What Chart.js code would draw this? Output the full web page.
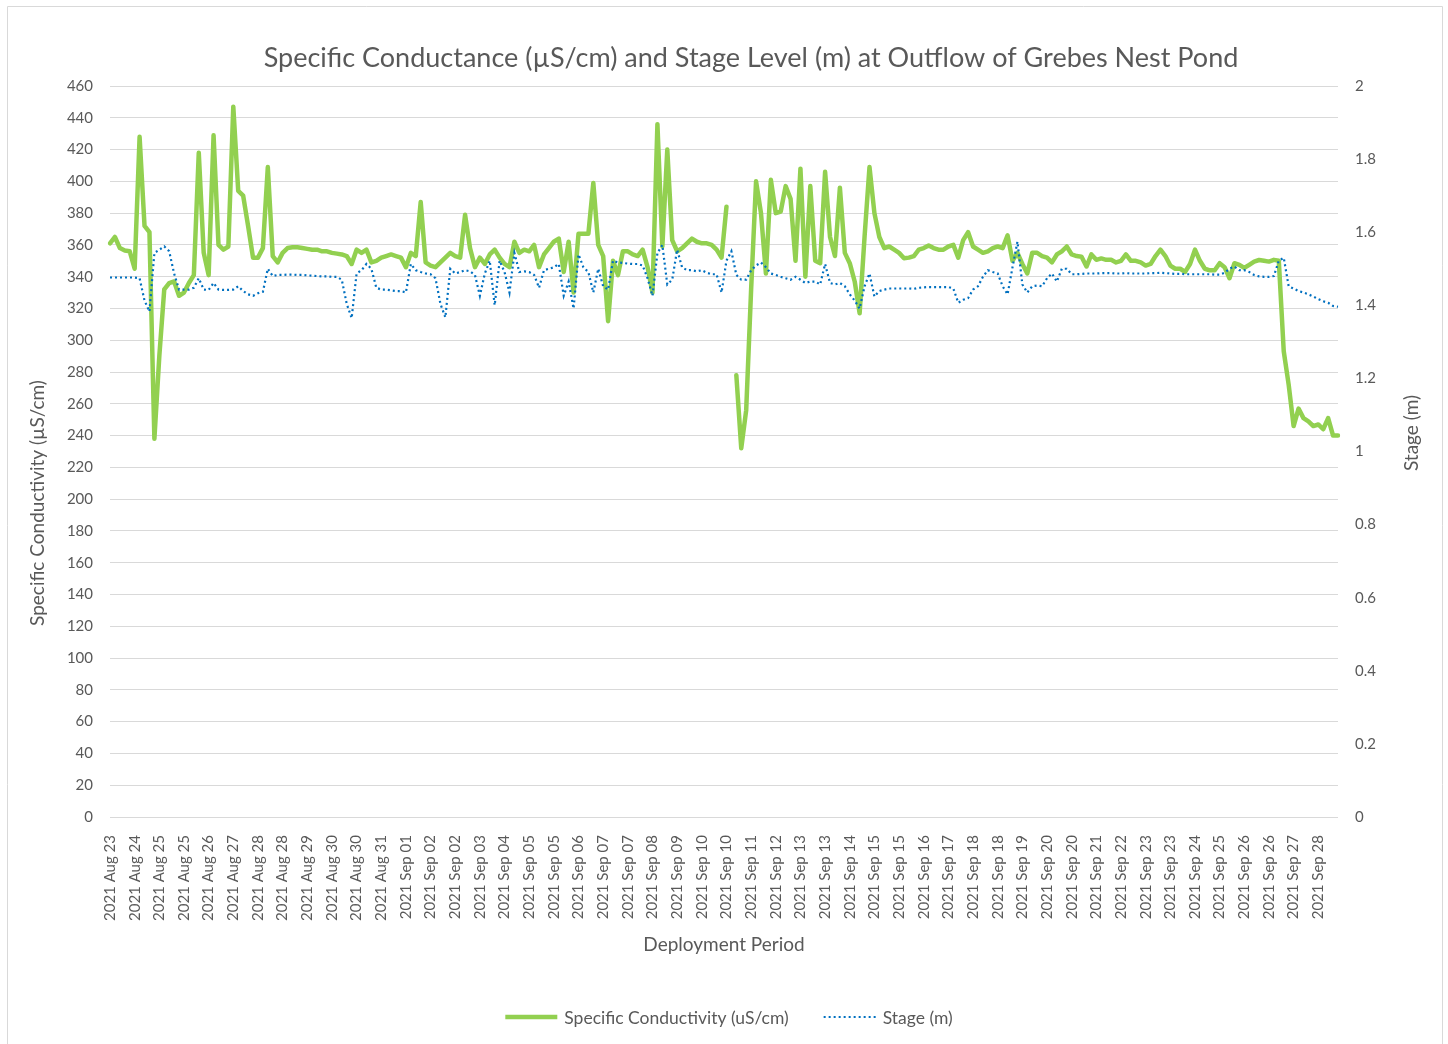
<!DOCTYPE html>
<html>
<head>
<meta charset="utf-8">
<title>Grebes Nest Pond</title>
<script src="https://cdn.jsdelivr.net/npm/chart.js@4.4.0/dist/chart.umd.min.js"></script>
<style>
  html, body { margin: 0; padding: 0; background: #ffffff; }
  #wrap { width: 1448px; height: 1044px; }
</style>
</head>
<body>
<div id="wrap"><canvas id="pondChart" width="1448" height="1044"></canvas></div>
<script>
  // Tick labels shown along the category axis (one every 5 readings)
  const tickLabels = [
    '2021 Aug 23', '2021 Aug 24', '2021 Aug 25', '2021 Aug 25', '2021 Aug 26', '2021 Aug 27',
    '2021 Aug 28', '2021 Aug 28', '2021 Aug 29', '2021 Aug 30', '2021 Aug 30', '2021 Aug 31',
    '2021 Sep 01', '2021 Sep 02', '2021 Sep 02', '2021 Sep 03', '2021 Sep 04', '2021 Sep 05',
    '2021 Sep 05', '2021 Sep 06', '2021 Sep 07', '2021 Sep 07', '2021 Sep 08', '2021 Sep 09',
    '2021 Sep 10', '2021 Sep 10', '2021 Sep 11', '2021 Sep 12', '2021 Sep 13', '2021 Sep 13',
    '2021 Sep 14', '2021 Sep 15', '2021 Sep 15', '2021 Sep 16', '2021 Sep 17', '2021 Sep 18',
    '2021 Sep 18', '2021 Sep 19', '2021 Sep 20', '2021 Sep 20', '2021 Sep 21', '2021 Sep 22',
    '2021 Sep 23', '2021 Sep 23', '2021 Sep 24', '2021 Sep 25', '2021 Sep 26', '2021 Sep 26',
    '2021 Sep 27', '2021 Sep 28'
  ];
  const readingsPerTick = 5;

  // Specific conductivity (uS/cm)
  const conductivity = [
    361, 365, 358, 356.5, 356, 345, 428, 372, 368, 238,
    290, 332, 336, 337, 328, 330, 336, 341, 418, 355,
    341, 429, 360, 357, 359, 447, 394, 391, 372, 352,
    352, 358, 409, 353, 349, 355, 358, 358.5, 358.5, 358,
    357.5, 357, 357, 356, 356, 355, 354.5, 354, 353, 348,
    357, 355, 357, 349, 350, 352, 353, 354, 353, 352,
    346, 355, 353, 387, 349, 347, 346, 349, 352, 355,
    353, 352, 379, 358, 346, 352, 348, 354, 357, 352,
    348, 346, 362, 355, 357, 356, 360, 346, 354, 358,
    362, 364, 343, 362, 330, 367, 367, 367, 399, 360,
    353, 312, 350, 341, 356, 356, 354, 353, 357, 346,
    330, 436, 359, 420, 363, 356, 358, 361, 364, 362,
    361, 361, 360, 357, 352, 384, null, 278, 232, 256,
    332, 400, 380, 342, 401, 380, 381, 397, 389, 350,
    408, 340, 397, 350, 348.5, 406, 365, 353, 396, 355,
    348.5, 337, 317, 365, 409, 380, 365, 358, 359, 357,
    355, 351.6, 352, 353, 357, 358, 359.6, 358, 357, 357,
    359, 360, 352, 363, 368, 359, 357, 355, 356, 358,
    359, 358, 366, 350, 355, 348, 342, 355, 355, 353,
    352, 349, 354, 356, 359, 354, 353, 352.5, 346.4, 354,
    350.6, 351.5, 350.6, 350.6, 349, 350, 354, 350, 350, 349,
    347, 348, 353, 357, 353, 347, 345, 345, 343, 348,
    357, 350, 345, 344, 344, 348.5, 346, 339, 348.5, 347.5,
    345.5, 347.5, 349.5, 350.5, 350, 349.5, 350.6, 350, 293, 272,
    246, 257, 251, 249, 246, 247, 244, 251, 240, 240
  ];

  // Stage level (m)
  const stage = [
    1.476, 1.476, 1.476, 1.476, 1.476, 1.476, 1.474, 1.413, 1.383, 1.543,
    1.552, 1.561, 1.548, 1.487, 1.443, 1.443, 1.443, 1.448, 1.474, 1.443,
    1.442, 1.461, 1.443, 1.442, 1.442, 1.443, 1.452, 1.439, 1.430, 1.426,
    1.433, 1.437, 1.500, 1.480, 1.483, 1.483, 1.484, 1.484, 1.483, 1.483,
    1.482, 1.481, 1.480, 1.479, 1.479, 1.478, 1.478, 1.470, 1.404, 1.365,
    1.487, 1.496, 1.513, 1.500, 1.448, 1.443, 1.443, 1.441, 1.439, 1.439,
    1.435, 1.513, 1.496, 1.491, 1.487, 1.485, 1.474, 1.404, 1.367, 1.500,
    1.487, 1.491, 1.496, 1.493, 1.483, 1.426, 1.487, 1.522, 1.400, 1.522,
    1.491, 1.435, 1.543, 1.491, 1.493, 1.491, 1.483, 1.448, 1.496, 1.500,
    1.504, 1.513, 1.426, 1.465, 1.391, 1.539, 1.504, 1.491, 1.435, 1.500,
    1.452, 1.443, 1.522, 1.517, 1.516, 1.514, 1.513, 1.513, 1.509, 1.474,
    1.426, 1.543, 1.565, 1.457, 1.470, 1.552, 1.504, 1.496, 1.496, 1.493,
    1.496, 1.489, 1.485, 1.485, 1.435, 1.522, 1.548, 1.483, 1.470, 1.470,
    1.496, 1.509, 1.517, 1.504, 1.487, 1.483, 1.478, 1.474, 1.470, 1.478,
    1.470, 1.461, 1.465, 1.465, 1.457, 1.513, 1.461, 1.457, 1.461, 1.452,
    1.430, 1.413, 1.391, 1.452, 1.487, 1.424, 1.439, 1.443, 1.446, 1.446,
    1.446, 1.446, 1.446, 1.445, 1.448, 1.449, 1.450, 1.450, 1.450, 1.450,
    1.450, 1.446, 1.407, 1.415, 1.420, 1.443, 1.452, 1.478, 1.496, 1.491,
    1.487, 1.452, 1.430, 1.504, 1.574, 1.457, 1.435, 1.452, 1.454, 1.452,
    1.474, 1.487, 1.465, 1.500, 1.500, 1.485, 1.485, 1.486, 1.487, 1.487,
    1.487, 1.488, 1.488, 1.488, 1.487, 1.487, 1.488, 1.487, 1.487, 1.487,
    1.487, 1.488, 1.488, 1.489, 1.488, 1.487, 1.486, 1.486, 1.485, 1.485,
    1.485, 1.485, 1.485, 1.485, 1.484, 1.484, 1.489, 1.500, 1.506, 1.496,
    1.496, 1.491, 1.483, 1.479, 1.478, 1.478, 1.480, 1.522, 1.530, 1.452,
    1.446, 1.439, 1.435, 1.430, 1.424, 1.417, 1.411, 1.407, 1.398, 1.396
  ];

  const chartTitle = 'Specific Conductance (\u00b5S/cm) and Stage Level (m) at Outflow of Grebes Nest Pond';
  const xTitle = 'Deployment Period';
  const yTitle = 'Specific Conductivity (\u00b5S/cm)';
  const y1Title = 'Stage (m)';

  const textColor = '#595959';
  const gridColor = '#d9d9d9';
  const fontFamily = 'Lato, "Open Sans", sans-serif';

  // Every reading gets a category; only every 5th one shows its text
  const labels = conductivity.map((_, i) => tickLabels[Math.floor(i / readingsPerTick)]);

  // Title, axis titles, legend and the chart border are drawn here
  const decorations = {
    id: 'decorations',
    afterDraw(chart) {
      const ctx = chart.ctx;
      ctx.save();

      // light border round the chart
      ctx.strokeStyle = gridColor;
      ctx.lineWidth = 1;
      ctx.beginPath();
      ctx.moveTo(7.5, 1044);
      ctx.lineTo(7.5, 6.5);
      ctx.lineTo(1442.5, 6.5);
      ctx.lineTo(1442.5, 1044);
      ctx.stroke();

      ctx.fillStyle = textColor;
      ctx.textAlign = 'center';
      ctx.textBaseline = 'middle';

      ctx.font = '27px ' + fontFamily;
      ctx.fillText(chartTitle, 751, 58);

      ctx.font = '19px ' + fontFamily;
      ctx.fillText(xTitle, 724, 945);

      ctx.save();
      ctx.translate(38, 503);
      ctx.rotate(-Math.PI / 2);
      ctx.fillText(yTitle, 0, 0);
      ctx.restore();

      ctx.save();
      ctx.translate(1412, 433);
      ctx.rotate(-Math.PI / 2);
      ctx.fillText(y1Title, 0, 0);
      ctx.restore();

      // legend
      ctx.font = '17.5px ' + fontFamily;
      ctx.textAlign = 'left';
      const sample = 52, gap = 7, spacing = 35;
      const items = chart.data.datasets.map(ds => ({ ds, w: ctx.measureText(ds.label).width }));
      const total = items.reduce((s, it) => s + sample + gap + it.w, 0) + spacing * (items.length - 1);
      let x = 729 - total / 2;
      const y = 1017;
      items.forEach(({ ds, w }) => {
        ctx.strokeStyle = ds.borderColor;
        ctx.lineWidth = ds.borderWidth;
        ctx.setLineDash(ds.borderDash || []);
        ctx.beginPath();
        ctx.moveTo(x, y);
        ctx.lineTo(x + sample, y);
        ctx.stroke();
        ctx.setLineDash([]);
        ctx.fillText(ds.label, x + sample + gap, y + 1);
        x += sample + gap + w + spacing;
      });

      ctx.restore();
    }
  };

  function createPondChart() {
    const ctx = document.getElementById('pondChart').getContext('2d');

    new Chart(ctx, {
      type: 'line',
      data: {
        labels: labels,
        datasets: [
          {
            label: 'Specific Conductivity (uS/cm)',
            data: conductivity,
            yAxisID: 'y',
            borderColor: '#92d050',
            borderWidth: 4.5,
            borderJoinStyle: 'round',
            borderCapStyle: 'round',
            pointRadius: 0,
            tension: 0,
            spanGaps: false,
            order: 2,
          },
          {
            label: 'Stage (m)',
            data: stage,
            yAxisID: 'y1',
            borderColor: '#0070c0',
            borderWidth: 2.2,
            borderDash: [2, 3],
            pointRadius: 0,
            tension: 0,
            order: 1,
          },
        ],
      },
      options: {
        responsive: false,
        animation: false,
        devicePixelRatio: 1,
        layout: { padding: { top: 86, left: 0, right: 0, bottom: 0 } },
        plugins: {
          legend: { display: false },
          title: { display: false },
          tooltip: { enabled: false },
        },
        scales: {
          x: {
            grid: { display: false },
            border: { display: false },
            ticks: {
              autoSkip: false,
              minRotation: 90,
              maxRotation: 90,
              padding: 10,
              color: textColor,
              font: { family: fontFamily, size: 15 },
              callback: (value, index) => index % readingsPerTick === 0 ? tickLabels[index / readingsPerTick] : '',
            },
            afterFit: scale => { scale.height = 1044 - 817; },
          },
          y: {
            position: 'left',
            min: 0,
            max: 460,
            ticks: {
              stepSize: 20,
              padding: 17,
              color: textColor,
              font: { family: fontFamily, size: 15 },
            },
            grid: { color: gridColor, lineWidth: 1, drawTicks: false },
            border: { display: false },
            afterFit: scale => { scale.width = 110; },
          },
          y1: {
            position: 'right',
            min: 0,
            max: 2,
            ticks: {
              stepSize: 0.2,
              padding: 17,
              color: textColor,
              font: { family: fontFamily, size: 15 },
              callback: value => String(+value.toFixed(1)),
            },
            grid: { display: false, drawTicks: false },
            border: { display: false },
            afterFit: scale => { scale.width = 110; },
          },
        },
      },
      plugins: [decorations],
    });
  }

  // Wait for the DOM to be ready before creating the chart
  document.addEventListener('DOMContentLoaded', () => {
    createPondChart();
  });
</script>
</body>
</html>
